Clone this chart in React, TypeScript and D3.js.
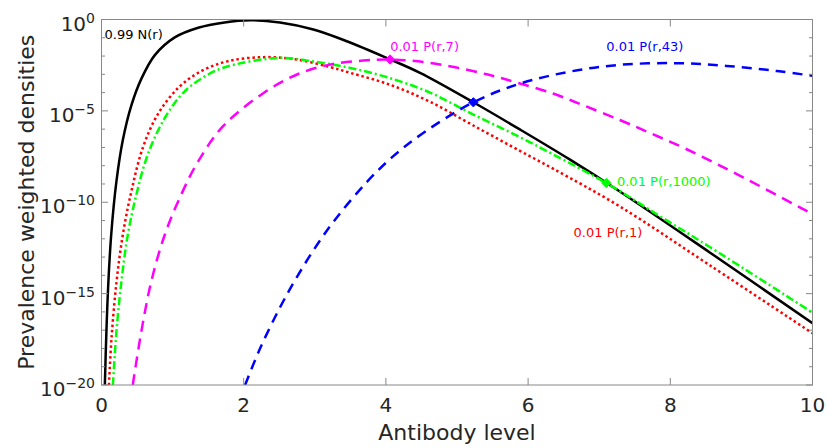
import React from "react";
import * as d3 from "d3";

// ---- data (x = antibody level, value = log10 of prevalence weighted density) ----
const xTicks = [0, 2, 4, 6, 8, 10];
const yTickExponents = [0, -5, -10, -15, -20];
const yMinorExponents = d3.range(-20, 1);

const seriesN: [number, number][] = [
  [0.047, -20], [0.068, -17.2], [0.095, -14.5], [0.138, -11.7], [0.21, -8.86], [0.3, -6.6],
  [0.42, -4.7], [0.56, -3.25], [0.75, -1.95], [1.03, -0.98], [1.36, -0.45], [1.73, -0.16],
  [2.09, -0.04], [2.51, -0.17], [2.98, -0.55], [3.45, -1.19], [4.01, -2.1], [4.48, -2.92],
  [5.23, -4.53], [5.89, -6.03], [6.59, -7.67], [7.29, -9.41], [8.56, -12.76], [10, -16.62],
];
const seriesP1: [number, number][] = [
  [0.105, -20], [0.14, -17.5], [0.21, -14.4], [0.3, -11.78], [0.42, -9.41], [0.58, -7.03],
  [0.79, -5.2], [1.08, -3.74], [1.4, -2.83], [1.78, -2.28], [2.28, -2.06], [2.75, -2.19],
  [3.21, -2.6], [3.5, -2.92], [4.05, -3.56], [4.62, -4.5], [5.23, -5.8], [5.89, -7.2],
  [6.35, -8.16], [7.29, -10.23], [8.56, -13.46], [10, -17.17],
];
const seriesP1000: [number, number][] = [
  [0.16, -20], [0.21, -17.08], [0.28, -14.34], [0.37, -11.78], [0.49, -9.59], [0.65, -7.4],
  [0.89, -5.39], [1.17, -3.93], [1.5, -3.01], [1.78, -2.56], [2.51, -2.1], [2.98, -2.3],
  [3.5, -2.65], [4.05, -3.2], [4.62, -4.0], [5.23, -5.2], [5.89, -6.45], [6.35, -7.38],
  [7.1, -8.95], [7.86, -10.78], [8.56, -12.46], [10, -16.04],
];
const seriesP7: [number, number][] = [
  [0.44, -20], [0.56, -17.08], [0.7, -14.34], [0.89, -11.78], [1.12, -9.59], [1.36, -7.76],
  [1.71, -5.84], [2.28, -4.02], [2.75, -3.01], [3.21, -2.47], [3.68, -2.25], [4.06, -2.19],
  [4.62, -2.37], [5.42, -3.0], [5.84, -3.45], [6.35, -4.05], [6.78, -4.7], [7.29, -5.5],
  [7.71, -6.2], [8.23, -7.1], [9.03, -8.65], [10, -10.65],
];
const seriesP43: [number, number][] = [
  [2.02, -20], [2.23, -18.0], [2.51, -15.76], [2.75, -14.08], [3.03, -12.34], [3.31, -10.83],
  [3.73, -8.9], [4.1, -7.49], [4.55, -6.14], [5.23, -4.53], [5.89, -3.5], [6.59, -2.85],
  [7.29, -2.48], [8.09, -2.39], [8.79, -2.54], [9.5, -2.82], [10, -3.08],
];
const markerPoints: [number, number][] = [[4.06, -2.19], [5.23, -4.53], [7.1, -8.95]];
const labelTexts = ["0.99 N(r)", "0.01 P(r,7)", "0.01 P(r,43)", "0.01 P(r,1000)", "0.01 P(r,1)"];
const labelAnchors: [number, number][] = [[0.042, -1.04], [4.06, -1.7], [7.1, -1.75], [7.25, -9.12], [6.64, -11.89]];

// ---- layout / style ----
const W = 828, H = 448;
const L = 101.5, R = 812.5, T = 19.5, B = 385;
const FONT = "'DejaVu Sans', sans-serif";
const AXIS = "#888888";
const TEXT = "#262626";

const x = d3.scaleLinear().domain([0, 10]).range([L, R]);
const y = d3.scaleLog().domain([1e-20, 1]).range([B, T]);
const line = d3
  .line<[number, number]>()
  .x((d) => x(d[0]))
  .y((d) => y(Math.pow(10, d[1])))
  .curve(d3.curveCatmullRom.alpha(0.5));

const styles = [
  { data: seriesN, color: "#000000", dash: "none" },
  { data: seriesP1, color: "#ff0000", dash: "2.5,2.8" },
  { data: seriesP1000, color: "#00ff00", dash: "8,3,2,3" },
  { data: seriesP7, color: "#ff00ff", dash: "11,7" },
  { data: seriesP43, color: "#0000ff", dash: "10,7" },
];
const markerColors = ["#ff00ff", "#0000ff", "#00ff00"];
const labelColors = ["#000000", "#ff00ff", "#0000ff", "#00ff00", "#ff0000"];
const diamond = d3.symbol().type(d3.symbolDiamond2).size(55)();

export default function App() {
  return (
    <div style={{ position: "absolute", left: 0, top: 0 }}>
      <svg width={W} height={H} style={{ display: "block", background: "#fff" }}>
        <defs>
          <clipPath id="plot">
            <rect x={L} y={T} width={R - L} height={B - T} />
          </clipPath>
        </defs>
        <rect x={0} y={0} width={W} height={H} fill="#fff" />
        {/* curves */}
        <g clipPath="url(#plot)">
          {styles.map((s, i) => (
            <path
              key={i}
              d={line(s.data) || ""}
              fill="none"
              stroke={s.color}
              strokeWidth={2.5}
              strokeDasharray={s.dash}
            />
          ))}
        </g>
        {/* markers */}
        {markerPoints.map((p, i) => (
          <path
            key={i}
            d={diamond || ""}
            transform={`translate(${x(p[0])},${y(Math.pow(10, p[1]))})`}
            fill={markerColors[i]}
            stroke={markerColors[i]}
          />
        ))}
        {/* labels */}
        {labelTexts.map((t, i) => (
          <text
            key={i}
            x={x(labelAnchors[i][0])}
            y={y(Math.pow(10, labelAnchors[i][1]))}
            fontFamily={FONT}
            fontSize={13}
            fill={labelColors[i]}
          >
            {t}
          </text>
        ))}
        {/* axes box */}
        <rect x={L} y={T} width={R - L} height={B - T} fill="none" stroke={AXIS} strokeWidth={1} />
        {/* x ticks */}
        {xTicks.map((v) => (
          <g key={v}>
            <line x1={x(v)} x2={x(v)} y1={B} y2={B - 7} stroke={AXIS} />
            <line x1={x(v)} x2={x(v)} y1={T} y2={T + 7} stroke={AXIS} />
            <text x={x(v)} y={B + 27} textAnchor="middle" fontFamily={FONT} fontSize={20} fill={TEXT}>
              {v}
            </text>
          </g>
        ))}
        {/* y ticks */}
        {yMinorExponents.map((e) => {
          const major = e % 5 === 0;
          const len = major ? 6.5 : 3.5;
          const yy = y(Math.pow(10, e));
          return (
            <g key={e}>
              <line x1={L} x2={L + len} y1={yy} y2={yy} stroke={AXIS} />
              <line x1={R} x2={R - len} y1={yy} y2={yy} stroke={AXIS} />
            </g>
          );
        })}
        {yTickExponents.map((e) => {
          const yy = y(Math.pow(10, e));
          return (
            <text key={e} x={95} y={yy + 11} textAnchor="end" fontFamily={FONT} fill={TEXT}>
              <tspan fontSize={20}>10</tspan>
              <tspan fontSize={14} dy={-8}>
                {e < 0 ? "\u2212" + Math.abs(e) : String(e)}
              </tspan>
            </text>
          );
        })}
        {/* axis labels */}
        <text x={(L + R) / 2} y={440} textAnchor="middle" fontFamily={FONT} fontSize={22} fill={TEXT}>
          Antibody level
        </text>
        <text
          transform={`translate(34,${(T + B) / 2}) rotate(-90)`}
          textAnchor="middle"
          fontFamily={FONT}
          fontSize={22}
          fill={TEXT}
        >
          Prevalence weighted densities
        </text>
      </svg>
    </div>
  );
}
